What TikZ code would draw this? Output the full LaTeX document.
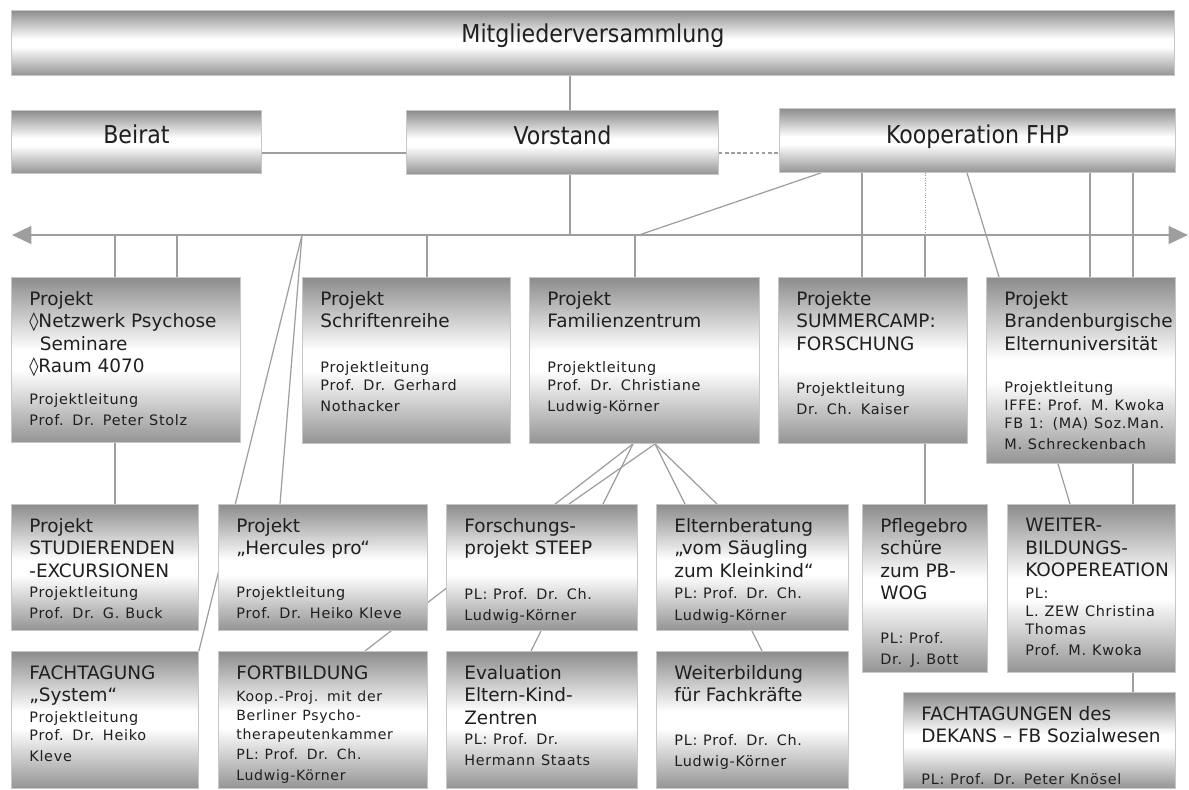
\documentclass[tikz,border=0pt]{standalone}
\usepackage{fontspec}
\setmainfont{DejaVu Sans}
\newfontfamily\condfnt{DejaVu Sans Condensed}
\newfontfamily\smallfnt[LetterSpace=5]{DejaVu Sans}
\usetikzlibrary{arrows.meta,backgrounds}

\definecolor{metaltop}{gray}{0.55}
\definecolor{metalbot}{gray}{0.58}
\definecolor{linkgray}{gray}{0.62}
\definecolor{framegray}{gray}{0.78}
\definecolor{inkgray}{gray}{0.12}
\pgfdeclareverticalshading{metal}{100bp}{color(0bp)=(metalbot); color(25bp)=(metalbot); color(47bp)=(white); color(53bp)=(white); color(75bp)=(metaltop); color(100bp)=(metaltop)}

\newcommand{\lgtxt}{\fontsize{10.5}{12.8}\selectfont}
\newcommand{\smtxt}{\smallfnt\fontsize{8.2}{10.3}\selectfont}
% paragraph break usable inside a label
\newcommand{\gap}[1]{\par\vspace{#1}}

\begin{document}
\begin{tikzpicture}[
    box/.style={draw=framegray, line width=0.5pt, shading=metal, anchor=north west, inner sep=0pt},
    topbox/.style={box, font=\condfnt\fontsize{14}{16}\selectfont, text=inkgray, text height=10pt, text depth=8pt},
    boxtext/.style={anchor=north west, align=left, text width=6cm, inner sep=0pt, xshift=0.36cm, yshift=-0.28cm, text=inkgray},
    link/.style={draw=linkgray, line width=0.7pt},
    axisline/.style={draw=linkgray, line width=1.6pt, {Triangle[length=11pt,width=10pt]}-{Triangle[length=11pt,width=10pt]}},
  ]
  \useasboundingbox (0,0) rectangle (23.78,-15.78);

  % Top levels
  \node[topbox, minimum width=23.26cm, minimum height=1.30cm, text depth=11pt] (mv) at (0.22,-0.20) {Mitgliederversammlung};
  \node[topbox, minimum width=5.00cm, minimum height=1.26cm] (beirat) at (0.22,-2.20) {Beirat};
  \node[topbox, minimum width=6.24cm, minimum height=1.28cm] (vorstand) at (8.12,-2.20) {Vorstand};
  \node[topbox, minimum width=7.92cm, minimum height=1.28cm, text depth=7pt] (koop) at (15.58,-2.16) {Kooperation FHP};

  % Axis
  \coordinate (axl) at (0.24,-4.70);
  \coordinate (axr) at (23.76,-4.70);
  \coordinate (ax) at (0,-4.70);
  \coordinate (ly) at (0,-3.06);

  % Projects, second row
  \node[box, minimum width=4.58cm, minimum height=3.30cm,
    label={[boxtext]north west:{\lgtxt Projekt\\◊Netzwerk Psychose\\\hspace*{6pt}Seminare\\◊Raum 4070\gap{7.8pt}\smtxt Projektleitung\\Prof. Dr. Peter Stolz}}] (netz) at (0.22,-5.54) {};
  \node[box, minimum width=4.16cm, minimum height=3.32cm,
    label={[boxtext]north west:{\lgtxt Projekt\\Schriftenreihe\gap{15pt}\smtxt Projektleitung\\Prof. Dr. Gerhard\\Nothacker}}] (schrift) at (6.04,-5.54) {};
  \node[box, minimum width=4.60cm, minimum height=3.32cm,
    label={[boxtext]north west:{\lgtxt Projekt\\Familienzentrum\gap{15pt}\smtxt Projektleitung\\Prof. Dr. Christiane\\Ludwig-Körner}}] (famz) at (10.58,-5.54) {};
  \node[box, minimum width=3.78cm, minimum height=3.32cm,
    label={[boxtext]north west:{\lgtxt Projekte\\SUMMERCAMP:\\FORSCHUNG\gap{14.4pt}\smtxt Projektleitung\\Dr. Ch. Kaiser}}] (summer) at (15.56,-5.54) {};
  \node[box, minimum width=3.78cm, minimum height=3.72cm,
    label={[boxtext]north west:{\lgtxt Projekt\\Brandenburgische\\Elternuniversität\gap{13.4pt}\smtxt Projektleitung\\IFFE: Prof. M. Kwoka\\FB 1: (MA) Soz.Man.\\M. Schreckenbach}}] (brand) at (19.72,-5.54) {};

  % Third row
  \node[box, minimum width=3.74cm, minimum height=2.52cm,
    label={[boxtext]north west:{\lgtxt Projekt\\STUDIERENDEN\\-EXCURSIONEN\gap{1pt}\smtxt Projektleitung\\Prof. Dr. G. Buck}}] (stud) at (0.22,-10.08) {};
  \node[box, minimum width=4.18cm, minimum height=2.52cm,
    label={[boxtext]north west:{\lgtxt Projekt\\„Hercules pro“\gap{14pt}\smtxt Projektleitung\\Prof. Dr. Heiko Kleve}}] (herc) at (4.36,-10.08) {};
  \node[box, minimum width=3.82cm, minimum height=2.52cm,
    label={[boxtext]north west:{\lgtxt Forschungs-\\projekt STEEP\gap{15pt}\smtxt PL: Prof. Dr. Ch.\\Ludwig-Körner}}] (steep) at (8.92,-10.08) {};
  \node[box, minimum width=3.84cm, minimum height=2.52cm,
    label={[boxtext]north west:{\lgtxt Elternberatung\\„vom Säugling\\zum Kleinkind“\gap{2pt}\smtxt PL: Prof. Dr. Ch.\\Ludwig-Körner}}] (elternb) at (13.12,-10.08) {};
  \node[box, minimum width=2.50cm, minimum height=3.36cm,
    label={[boxtext]north west:{\lgtxt Pflegebro\\schüre\\zum PB-\\WOG\gap{14.4pt}\smtxt PL: Prof.\\Dr. J. Bott}}] (pflege) at (17.24,-10.08) {};
  \node[box, minimum width=3.36cm, minimum height=3.36cm,
    label={[boxtext]north west:{\lgtxt WEITER-\\BILDUNGS-\\KOOPEREATION\gap{2pt}\smtxt PL:\\L. ZEW Christina\\Thomas\\Prof. M. Kwoka}}] (weiter) at (20.14,-10.08) {};

  % Bottom row
  \node[box, minimum width=3.74cm, minimum height=2.74cm,
    label={[boxtext]north west:{\lgtxt FACHTAGUNG\\„System“\gap{1.6pt}\smtxt Projektleitung\\Prof. Dr. Heiko\\Kleve}}] (fachtag) at (0.22,-13.02) {};
  \node[box, minimum width=4.18cm, minimum height=2.74cm,
    label={[boxtext]north west:{\lgtxt FORTBILDUNG\gap{1.6pt}\smallfnt\fontsize{8}{11}\selectfont Koop.-Proj. mit der\\Berliner Psycho-\\therapeutenkammer\\PL: Prof. Dr. Ch.\\Ludwig-Körner}}] (fortb) at (4.36,-13.02) {};
  \node[box, minimum width=3.82cm, minimum height=2.74cm,
    label={[boxtext]north west:{\lgtxt Evaluation\\Eltern-Kind-\\Zentren\gap{1pt}\smtxt PL: Prof. Dr.\\Hermann Staats}}] (eval) at (8.92,-13.02) {};
  \node[box, minimum width=3.84cm, minimum height=2.74cm,
    label={[boxtext]north west:{\lgtxt Weiterbildung\\für Fachkräfte\gap{14.4pt}\smtxt PL: Prof. Dr. Ch.\\Ludwig-Körner}}] (weiterb) at (13.12,-13.02) {};
  \node[box, minimum width=5.44cm, minimum height=1.92cm,
    label={[boxtext]north west:{\lgtxt FACHTAGUNGEN des\\DEKANS – FB Sozialwesen\gap{11.5pt}\smtxt PL: Prof. Dr. Peter Knösel}}] (fachdek) at (18.06,-13.84) {};

  \begin{scope}[on background layer]
    % Vorstand and neighbours
    \draw[link] (11.40,0 |- mv.south) -- (11.40,0 |- vorstand.north);
    \draw[link] (11.40,0 |- vorstand.south) -- (11.40,0 |- ax);
    \draw[link] (beirat.east |- ly) -- (vorstand.west |- ly);
    \draw[link, dash pattern=on 2pt off 1.5pt] (vorstand.east |- ly) -- (koop.west |- ly);

    % Kooperation FHP
    \draw[link] (16.42,0 |- koop.south) -- (12.78,0 |- ax);
    \draw[link] (17.24,0 |- koop.south) -- (17.24,0 |- summer.north);
    \draw[link, line width=0.4pt, densely dotted] (18.50,0 |- koop.south) -- (18.50,0 |- ax);
    \draw[link] (18.50,0 |- ax) -- (18.50,0 |- summer.north);
    \draw[link] (19.34,0 |- koop.south) -- (19.98,0 |- brand.north);
    \draw[link] (21.80,0 |- koop.south) -- (21.80,0 |- brand.north);
    \draw[link] (22.66,0 |- koop.south) -- (22.66,0 |- brand.north);

    % From the axis down
    \draw[link] (2.30,0 |- ax) -- (2.30,0 |- netz.north);
    \draw[link] (3.54,0 |- ax) -- (3.54,0 |- netz.north);
    \draw[link] (8.54,0 |- ax) -- (8.54,0 |- schrift.north);
    \draw[link] (12.70,0 |- ax) -- (12.70,0 |- famz.north);
    \draw[link] (6.04,0 |- ax) -- (5.60,0 |- herc.north);
    \draw[link] (6.04,0 |- ax) -- (fachtag.north east);

    % Lower links
    \draw[link] (2.30,0 |- netz.south) -- (2.30,0 |- stud.north);
    \draw[link] (12.66,0 |- famz.south) -- (7.30,0 |- fortb.north);
    \draw[link] (12.66,0 |- famz.south) -- (12.06,0 |- steep.north);
    \draw[link] (13.10,0 |- famz.south) -- (11.38,0 |- steep.north);
    \draw[link] (13.10,0 |- famz.south) -- (13.70,0 |- elternb.north);
    \draw[link] (13.10,0 |- famz.south) -- (14.34,0 |- elternb.north);
    \draw[link] (10.82,0 |- steep.south) -- (10.62,0 |- eval.north);
    \draw[link] (15.04,0 |- elternb.south) -- (15.24,0 |- weiterb.north);
    \draw[link] (18.50,0 |- summer.south) -- (18.50,0 |- pflege.north);
    \draw[link] (21.16,0 |- brand.south) -- (21.40,0 |- weiter.north);
    \draw[link] (22.66,0 |- brand.south) -- (22.66,0 |- weiter.north);
    \draw[link] (22.66,0 |- weiter.south) -- (22.66,0 |- fachdek.north);

    % Axis
    \draw[axisline] (axl) -- (axr);
  \end{scope}

\end{tikzpicture}
\end{document}
